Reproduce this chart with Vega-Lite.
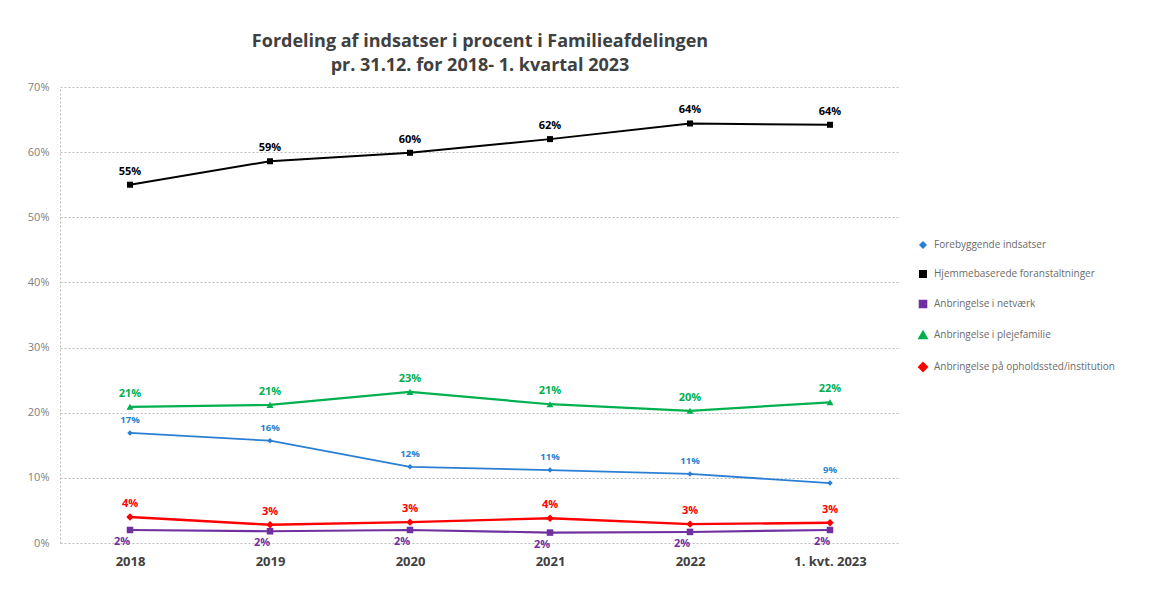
{
  "$schema": "https://vega.github.io/schema/vega-lite/v6.json",
  "width": 840,
  "height": 456,
  "autosize": "none",
  "padding": {"left": 60, "top": 87, "right": 261, "bottom": 46},
  "background": "white",
  "title": {
    "text": ["Fordeling af indsatser i procent i Familieafdelingen", "pr. 31.12. for 2018- 1. kvartal 2023"],
    "font": "Open Sans",
    "fontSize": 18,
    "fontWeight": "bold",
    "color": "#404040",
    "lineHeight": 24,
    "offset": 6,
    "anchor": "middle"
  },
  "config": {
    "view": {"stroke": null},
    "font": "Open Sans"
  },
  "data": {
    "values": [
      {"periode": "2018", "serie": "Forebyggende indsatser", "andel": 0.169},
      {"periode": "2019", "serie": "Forebyggende indsatser", "andel": 0.157},
      {"periode": "2020", "serie": "Forebyggende indsatser", "andel": 0.117},
      {"periode": "2021", "serie": "Forebyggende indsatser", "andel": 0.112},
      {"periode": "2022", "serie": "Forebyggende indsatser", "andel": 0.106},
      {"periode": "1. kvt. 2023", "serie": "Forebyggende indsatser", "andel": 0.092},
      {"periode": "2018", "serie": "Hjemmebaserede foranstaltninger", "andel": 0.55},
      {"periode": "2019", "serie": "Hjemmebaserede foranstaltninger", "andel": 0.586},
      {"periode": "2020", "serie": "Hjemmebaserede foranstaltninger", "andel": 0.599},
      {"periode": "2021", "serie": "Hjemmebaserede foranstaltninger", "andel": 0.62},
      {"periode": "2022", "serie": "Hjemmebaserede foranstaltninger", "andel": 0.644},
      {"periode": "1. kvt. 2023", "serie": "Hjemmebaserede foranstaltninger", "andel": 0.642},
      {"periode": "2018", "serie": "Anbringelse i netværk", "andel": 0.02},
      {"periode": "2019", "serie": "Anbringelse i netværk", "andel": 0.018},
      {"periode": "2020", "serie": "Anbringelse i netværk", "andel": 0.02},
      {"periode": "2021", "serie": "Anbringelse i netværk", "andel": 0.016},
      {"periode": "2022", "serie": "Anbringelse i netværk", "andel": 0.017},
      {"periode": "1. kvt. 2023", "serie": "Anbringelse i netværk", "andel": 0.02},
      {"periode": "2018", "serie": "Anbringelse i plejefamilie", "andel": 0.209},
      {"periode": "2019", "serie": "Anbringelse i plejefamilie", "andel": 0.212},
      {"periode": "2020", "serie": "Anbringelse i plejefamilie", "andel": 0.232},
      {"periode": "2021", "serie": "Anbringelse i plejefamilie", "andel": 0.213},
      {"periode": "2022", "serie": "Anbringelse i plejefamilie", "andel": 0.203},
      {"periode": "1. kvt. 2023", "serie": "Anbringelse i plejefamilie", "andel": 0.216},
      {"periode": "2018", "serie": "Anbringelse på opholdssted/institution", "andel": 0.04},
      {"periode": "2019", "serie": "Anbringelse på opholdssted/institution", "andel": 0.028},
      {"periode": "2020", "serie": "Anbringelse på opholdssted/institution", "andel": 0.032},
      {"periode": "2021", "serie": "Anbringelse på opholdssted/institution", "andel": 0.038},
      {"periode": "2022", "serie": "Anbringelse på opholdssted/institution", "andel": 0.029},
      {"periode": "1. kvt. 2023", "serie": "Anbringelse på opholdssted/institution", "andel": 0.031}
    ]
  },
  "encoding": {
    "x": {
      "field": "periode",
      "type": "ordinal",
      "sort": ["2018", "2019", "2020", "2021", "2022", "1. kvt. 2023"],
      "scale": {"type": "point", "padding": 0.5},
      "axis": {
        "title": null,
        "labelAngle": 0,
        "domain": false,
        "ticks": false,
        "labelPadding": 12,
        "labelFontSize": 13,
        "labelFontWeight": "bold",
        "labelColor": "#404040",
        "labelFont": "Open Sans"
      }
    },
    "y": {
      "field": "andel",
      "type": "quantitative",
      "scale": {"domain": [0, 0.7], "nice": false},
      "axis": {
        "title": null,
        "format": ".0%",
        "values": [0, 0.1, 0.2, 0.3, 0.4, 0.5, 0.6, 0.7],
        "labelFontSize": 11,
        "labelColor": "#808080",
        "labelPadding": 11,
        "ticks": false,
        "grid": true,
        "gridColor": "#bdbdbd",
        "gridDash": [2, 2],
        "gridWidth": 1,
        "domain": true,
        "domainColor": "#bdbdbd",
        "domainDash": [2, 2],
        "domainWidth": 1
      }
    },
    "color": {
      "field": "serie",
      "type": "nominal",
      "scale": {
        "domain": ["Forebyggende indsatser", "Hjemmebaserede foranstaltninger", "Anbringelse i netværk", "Anbringelse i plejefamilie", "Anbringelse på opholdssted/institution"],
        "range": ["#2a7fd4", "#000000", "#7030a0", "#00b050", "#ff0000"]
      },
      "legend": {
        "title": null,
        "orient": "none",
        "legendX": 858,
        "legendY": 153,
        "labelFontSize": 10,
        "labelColor": "#6b6b6b",
        "rowPadding": 15,
        "symbolSize": 50,
        "labelOffset": 6,
        "labelLimit": 300
      }
    }
  },
  "layer": [
    {
      "mark": {"type": "line"},
      "encoding": {
        "strokeWidth": {
          "field": "serie",
          "type": "nominal",
          "scale": {
            "domain": ["Forebyggende indsatser", "Hjemmebaserede foranstaltninger", "Anbringelse i netværk", "Anbringelse i plejefamilie", "Anbringelse på opholdssted/institution"],
            "range": [1.8, 2.4, 2, 2.4, 2.4]
          },
          "legend": null
        }
      }
    },
    {
      "mark": {"type": "point", "filled": true, "opacity": 1},
      "encoding": {
        "shape": {
          "field": "serie",
          "type": "nominal",
          "scale": {
            "domain": ["Forebyggende indsatser", "Hjemmebaserede foranstaltninger", "Anbringelse i netværk", "Anbringelse i plejefamilie", "Anbringelse på opholdssted/institution"],
            "range": ["diamond", "square", "square", "triangle-up", "diamond"]
          },
          "legend": {
            "title": null,
            "orient": "none",
            "legendX": 858,
            "legendY": 153,
            "labelFontSize": 10,
            "labelColor": "#6b6b6b",
            "rowPadding": 15,
            "symbolSize": 50,
            "labelOffset": 6,
            "labelLimit": 300
          }
        },
        "size": {
          "field": "serie",
          "type": "nominal",
          "scale": {
            "domain": ["Forebyggende indsatser", "Hjemmebaserede foranstaltninger", "Anbringelse i netværk", "Anbringelse i plejefamilie", "Anbringelse på opholdssted/institution"],
            "range": [30, 55, 45, 45, 35]
          },
          "legend": null
        }
      }
    },
    {
      "transform": [{"filter": "datum.serie !== 'Anbringelse i netværk' && datum.serie !== 'Forebyggende indsatser'"}],
      "mark": {"type": "text", "dy": -13, "fontSize": 11, "fontWeight": "bold"},
      "encoding": {
        "text": {"field": "andel", "type": "quantitative", "format": ".0%"}
      }
    },
    {
      "transform": [{"filter": "datum.serie === 'Forebyggende indsatser'"}],
      "mark": {"type": "text", "dy": -13, "fontSize": 9.5, "fontWeight": "bold"},
      "encoding": {
        "text": {"field": "andel", "type": "quantitative", "format": ".0%"}
      }
    },
    {
      "transform": [{"filter": "datum.serie === 'Anbringelse i netværk'"}],
      "mark": {"type": "text", "dy": 12, "dx": -8, "fontSize": 11, "fontWeight": "bold"},
      "encoding": {
        "text": {"field": "andel", "type": "quantitative", "format": ".0%"}
      }
    }
  ]
}
